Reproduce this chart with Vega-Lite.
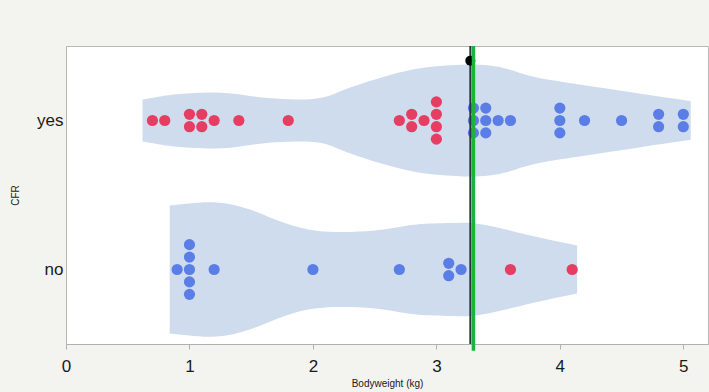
{
  "$schema": "https://vega.github.io/schema/vega-lite/v6.json",
  "width": 642,
  "height": 298,
  "autosize": {"type": "none"},
  "padding": {"left": 66, "top": 46, "right": 1, "bottom": 48},
  "background": "#f3f3ef",
  "config": {
    "view": {"fill": "white", "stroke": "#b8b8b8", "strokeWidth": 1},
    "font": "Liberation Sans"
  },
  "datasets": {
    "violin": [
      {"CFR": "yes", "weight": 0.62, "hi": 1.641, "lo": 1.359},
      {"CFR": "yes", "weight": 0.76, "hi": 1.661, "lo": 1.339},
      {"CFR": "yes", "weight": 0.92, "hi": 1.678, "lo": 1.322},
      {"CFR": "yes", "weight": 1.19, "hi": 1.688, "lo": 1.312},
      {"CFR": "yes", "weight": 1.41, "hi": 1.674, "lo": 1.326},
      {"CFR": "yes", "weight": 1.59, "hi": 1.654, "lo": 1.346},
      {"CFR": "yes", "weight": 1.81, "hi": 1.643, "lo": 1.357},
      {"CFR": "yes", "weight": 2.0, "hi": 1.645, "lo": 1.355},
      {"CFR": "yes", "weight": 2.14, "hi": 1.668, "lo": 1.332},
      {"CFR": "yes", "weight": 2.27, "hi": 1.711, "lo": 1.289},
      {"CFR": "yes", "weight": 2.54, "hi": 1.785, "lo": 1.215},
      {"CFR": "yes", "weight": 2.81, "hi": 1.842, "lo": 1.158},
      {"CFR": "yes", "weight": 3.03, "hi": 1.866, "lo": 1.134},
      {"CFR": "yes", "weight": 3.19, "hi": 1.874, "lo": 1.126},
      {"CFR": "yes", "weight": 3.28, "hi": 1.876, "lo": 1.124},
      {"CFR": "yes", "weight": 3.43, "hi": 1.869, "lo": 1.131},
      {"CFR": "yes", "weight": 3.59, "hi": 1.842, "lo": 1.158},
      {"CFR": "yes", "weight": 3.78, "hi": 1.795, "lo": 1.205},
      {"CFR": "yes", "weight": 4.05, "hi": 1.755, "lo": 1.245},
      {"CFR": "yes", "weight": 4.32, "hi": 1.721, "lo": 1.279},
      {"CFR": "yes", "weight": 4.64, "hi": 1.681, "lo": 1.319},
      {"CFR": "yes", "weight": 5.06, "hi": 1.63, "lo": 1.37},
      {"CFR": "no", "weight": 0.84, "hi": 0.93, "lo": 0.07},
      {"CFR": "no", "weight": 1.0, "hi": 0.943, "lo": 0.057},
      {"CFR": "no", "weight": 1.22, "hi": 0.95, "lo": 0.05},
      {"CFR": "no", "weight": 1.49, "hi": 0.903, "lo": 0.097},
      {"CFR": "no", "weight": 1.76, "hi": 0.815, "lo": 0.185},
      {"CFR": "no", "weight": 2.03, "hi": 0.76, "lo": 0.24},
      {"CFR": "no", "weight": 2.3, "hi": 0.752, "lo": 0.248},
      {"CFR": "no", "weight": 2.57, "hi": 0.768, "lo": 0.232},
      {"CFR": "no", "weight": 2.84, "hi": 0.802, "lo": 0.198},
      {"CFR": "no", "weight": 3.11, "hi": 0.812, "lo": 0.188},
      {"CFR": "no", "weight": 3.28, "hi": 0.812, "lo": 0.188},
      {"CFR": "no", "weight": 3.51, "hi": 0.779, "lo": 0.221},
      {"CFR": "no", "weight": 3.78, "hi": 0.725, "lo": 0.275},
      {"CFR": "no", "weight": 4.14, "hi": 0.661, "lo": 0.339}
    ],
    "points": [
      {"CFR": "yes", "weight": 0.7, "stack": 0, "class": "A"},
      {"CFR": "yes", "weight": 0.8, "stack": 0, "class": "A"},
      {"CFR": "yes", "weight": 1.0, "stack": -0.5, "class": "A"},
      {"CFR": "yes", "weight": 1.0, "stack": 0.5, "class": "A"},
      {"CFR": "yes", "weight": 1.1, "stack": -0.5, "class": "A"},
      {"CFR": "yes", "weight": 1.1, "stack": 0.5, "class": "A"},
      {"CFR": "yes", "weight": 1.2, "stack": 0, "class": "A"},
      {"CFR": "yes", "weight": 1.4, "stack": 0, "class": "A"},
      {"CFR": "yes", "weight": 1.8, "stack": 0, "class": "A"},
      {"CFR": "yes", "weight": 2.7, "stack": 0, "class": "A"},
      {"CFR": "yes", "weight": 2.8, "stack": -0.5, "class": "A"},
      {"CFR": "yes", "weight": 2.8, "stack": 0.5, "class": "A"},
      {"CFR": "yes", "weight": 2.9, "stack": 0, "class": "A"},
      {"CFR": "yes", "weight": 3.0, "stack": -1.5, "class": "A"},
      {"CFR": "yes", "weight": 3.0, "stack": -0.5, "class": "A"},
      {"CFR": "yes", "weight": 3.0, "stack": 0.5, "class": "A"},
      {"CFR": "yes", "weight": 3.0, "stack": 1.5, "class": "A"},
      {"CFR": "yes", "weight": 3.3, "stack": -1, "class": "B"},
      {"CFR": "yes", "weight": 3.3, "stack": 0, "class": "B"},
      {"CFR": "yes", "weight": 3.3, "stack": 1, "class": "B"},
      {"CFR": "yes", "weight": 3.4, "stack": -1, "class": "B"},
      {"CFR": "yes", "weight": 3.4, "stack": 0, "class": "B"},
      {"CFR": "yes", "weight": 3.4, "stack": 1, "class": "B"},
      {"CFR": "yes", "weight": 3.5, "stack": 0, "class": "B"},
      {"CFR": "yes", "weight": 3.6, "stack": 0, "class": "B"},
      {"CFR": "yes", "weight": 4.0, "stack": -1, "class": "B"},
      {"CFR": "yes", "weight": 4.0, "stack": 0, "class": "B"},
      {"CFR": "yes", "weight": 4.0, "stack": 1, "class": "B"},
      {"CFR": "yes", "weight": 4.2, "stack": 0, "class": "B"},
      {"CFR": "yes", "weight": 4.5, "stack": 0, "class": "B"},
      {"CFR": "yes", "weight": 4.8, "stack": -0.5, "class": "B"},
      {"CFR": "yes", "weight": 4.8, "stack": 0.5, "class": "B"},
      {"CFR": "yes", "weight": 5.0, "stack": -0.5, "class": "B"},
      {"CFR": "yes", "weight": 5.0, "stack": 0.5, "class": "B"},
      {"CFR": "no", "weight": 0.9, "stack": 0, "class": "B"},
      {"CFR": "no", "weight": 1.0, "stack": -2, "class": "B"},
      {"CFR": "no", "weight": 1.0, "stack": -1, "class": "B"},
      {"CFR": "no", "weight": 1.0, "stack": 0, "class": "B"},
      {"CFR": "no", "weight": 1.0, "stack": 1, "class": "B"},
      {"CFR": "no", "weight": 1.0, "stack": 2, "class": "B"},
      {"CFR": "no", "weight": 1.2, "stack": 0, "class": "B"},
      {"CFR": "no", "weight": 2.0, "stack": 0, "class": "B"},
      {"CFR": "no", "weight": 2.7, "stack": 0, "class": "B"},
      {"CFR": "no", "weight": 3.1, "stack": -0.5, "class": "B"},
      {"CFR": "no", "weight": 3.1, "stack": 0.5, "class": "B"},
      {"CFR": "no", "weight": 3.2, "stack": 0, "class": "B"},
      {"CFR": "no", "weight": 3.6, "stack": 0, "class": "A"},
      {"CFR": "no", "weight": 4.1, "stack": 0, "class": "A"}
    ],
    "marker": [
      {"CFR": "yes", "weight": 3.275, "stack": -4.82}
    ]
  },
  "layer": [
    {
      "data": {"name": "violin"},
      "mark": {"type": "area", "interpolate": "natural", "color": "#cfdcee", "opacity": 1},
      "encoding": {
        "x": {
          "field": "weight",
          "type": "quantitative",
          "scale": {"domain": [0, 5.2], "nice": false, "zero": false},
          "axis": {
            "title": "Bodyweight (kg)",
            "values": [0, 1, 2, 3, 4, 5],
            "format": "d",
            "labelFlush": false,
            "grid": false,
            "domainColor": "#b0b0b0",
            "tickColor": "#b0b0b0",
            "tickSize": 5,
            "labelFontSize": 17,
            "labelColor": "#1a1a1a",
            "labelPadding": 9,
            "titleFontSize": 10,
            "titleFontWeight": "normal",
            "titleColor": "#1a1a1a",
            "titlePadding": 4
          }
        },
        "y": {"field": "hi", "type": "quantitative", "scale": {"domain": [0, 2], "nice": false, "zero": false}, "axis": null},
        "y2": {"field": "lo"},
        "detail": {"field": "CFR"}
      }
    },
    {
      "data": {"name": "points"},
      "mark": {"type": "circle", "size": 125, "opacity": 1},
      "encoding": {
        "x": {"field": "weight", "type": "quantitative", "scale": {"domain": [0, 5.2], "nice": false, "zero": false}},
        "y": {
          "field": "CFR",
          "type": "nominal",
          "sort": ["yes", "no"],
          "scale": {"paddingInner": 0, "paddingOuter": 0},
          "axis": {
            "title": "CFR",
            "ticks": false,
            "domain": false,
            "labelFontSize": 17,
            "labelColor": "#1a1a1a",
            "labelPadding": 3,
            "titleFontSize": 10,
            "titleFontWeight": "normal",
            "titleColor": "#1a1a1a",
            "titlePadding": 16
          }
        },
        "yOffset": {"field": "stack", "type": "quantitative", "scale": {"domain": [-6, 6]}},
        "color": {
          "field": "class",
          "type": "nominal",
          "scale": {"domain": ["A", "B"], "range": ["#e63e62", "#5b7ee6"]},
          "legend": null
        }
      }
    },
    {
      "data": {"values": [{}]},
      "mark": {"type": "rule", "color": "#2a3440", "strokeWidth": 2},
      "encoding": {
        "x": {"datum": 3.275, "type": "quantitative", "scale": {"domain": [0, 5.2], "nice": false, "zero": false}}
      }
    },
    {
      "data": {"name": "marker"},
      "mark": {"type": "circle", "size": 100, "opacity": 1, "color": "#000000"},
      "encoding": {
        "x": {"field": "weight", "type": "quantitative", "scale": {"domain": [0, 5.2], "nice": false, "zero": false}},
        "y": {"field": "CFR", "type": "nominal", "sort": ["yes", "no"], "scale": {"domain": ["yes", "no"], "paddingInner": 0, "paddingOuter": 0}, "axis": null},
        "yOffset": {"field": "stack", "type": "quantitative", "scale": {"domain": [-6, 6]}}
      }
    },
    {
      "data": {"values": [{}]},
      "mark": {"type": "rule", "color": "#1db33a", "strokeWidth": 3.5},
      "encoding": {
        "x": {"datum": 3.3, "type": "quantitative", "scale": {"domain": [0, 5.2], "nice": false, "zero": false}},
        "y": {"datum": 2, "type": "quantitative", "scale": {"domain": [0, 2], "nice": false, "zero": false}, "axis": null},
        "y2": {"datum": -0.045}
      }
    }
  ],
  "resolve": {"scale": {"y": "independent"}}
}
